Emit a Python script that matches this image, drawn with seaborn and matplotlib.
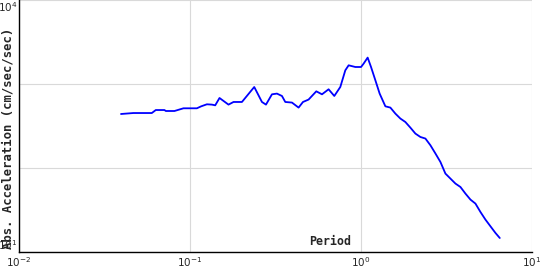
import matplotlib
matplotlib.use("Agg")
import matplotlib.pyplot as plt
import seaborn as sns
import pandas as pd

period = [0.0397, 0.0469, 0.0601, 0.0634, 0.0712, 0.0726, 0.0815, 0.0920, 0.1102, 0.1168,
          0.1261, 0.1349, 0.1410, 0.1494, 0.1686, 0.1804, 0.2020, 0.2384, 0.2644, 0.2791,
          0.3025, 0.3236, 0.3461, 0.3619, 0.3960, 0.4328, 0.4592, 0.4951, 0.5493, 0.5930,
          0.6481, 0.6998, 0.7587, 0.8116, 0.8487, 0.9286, 1.003, 1.0385, 1.096, 1.147,
          1.216, 1.288, 1.391, 1.488, 1.591, 1.702, 1.820, 1.947, 2.083, 2.228,
          2.384, 2.550, 2.728, 2.917, 3.120, 3.338, 3.570, 3.819, 4.084, 4.369,
          4.673, 4.998, 5.346, 5.718, 6.116, 6.482]
accel = [443, 455, 455, 494, 494, 481, 481, 518, 518, 547,
         578, 573, 562, 687, 573, 616, 616, 929, 616, 573,
         760, 775, 726, 616, 606, 528, 616, 658, 825, 760,
         872, 726, 929, 1468, 1683, 1607, 1607, 1764, 2079, 1607,
         1116, 775, 547, 528, 448, 391, 356, 305, 259, 236,
         226, 188, 150, 119, 86.5, 75.4, 65.8, 59.9, 50.0, 42.4,
         38.0, 30.2, 24.5, 20.4, 17.0, 14.8]

x_ticks = [0.01, 0.1, 1, 10]
x_tick_labels = ["$10^{-2}$", "$10^{-1}$", "$10^{0}$", "$10^{1}$"]
y_ticks = [10, 100, 1000, 10000]
y_tick_labels = ["$10^{1}$", "", "", "$10^{4}$"]

df = pd.DataFrame({"Period": period, "Accel": accel})

sns.set_style("white")
plt.rcParams["font.family"] = ["DejaVu Sans"]

fig = plt.figure(figsize=(5.4, 2.7), dpi=100)
ax = fig.add_axes([18.5 / 540, (270 - 252.3) / 270, (532 - 18.5) / 540, 252 / 270])

sns.lineplot(data=df, x="Period", y="Accel", ax=ax, color="#0000ff",
             linewidth=1.3, estimator=None, sort=False)

ax.set_xscale("log")
ax.set_yscale("log")
ax.set_xlim(0.01, 10)
ax.set_ylim(10, 10000)
ax.set_xticks(x_ticks)
ax.set_xticklabels(x_tick_labels, fontsize=7.5)
ax.set_yticks(y_ticks)
ax.set_yticklabels(y_tick_labels, fontsize=7.5)
ax.minorticks_off()
ax.tick_params(axis="both", length=0, pad=2)
ax.tick_params(axis="y", pad=1)
ylabels = ax.get_yticklabels()
ylabels[0].set_va("bottom")
ylabels[3].set_va("top")

ax.grid(True, which="major", color="#d9d9d9", linewidth=0.8)
ax.set_axisbelow(True)
for s in ["top", "right"]:
    ax.spines[s].set_visible(False)
for s in ["left", "bottom"]:
    ax.spines[s].set_color("black")
    ax.spines[s].set_linewidth(1.0)

ax.set_xlabel("Period", fontsize=8.4, fontweight="bold", family="DejaVu Sans Mono")
ax.xaxis.set_label_coords(0.6066, 0.041)
ax.xaxis.label.set_va("center")
ax.set_ylabel("Abs. Acceleration (cm/sec/sec)", fontsize=8.8, fontweight="bold",
              family="DejaVu Sans Mono")
ax.yaxis.set_label_coords(-0.0204, 0.4536)
ax.yaxis.label.set_va("center")

fig.savefig("out.png", dpi=100)
